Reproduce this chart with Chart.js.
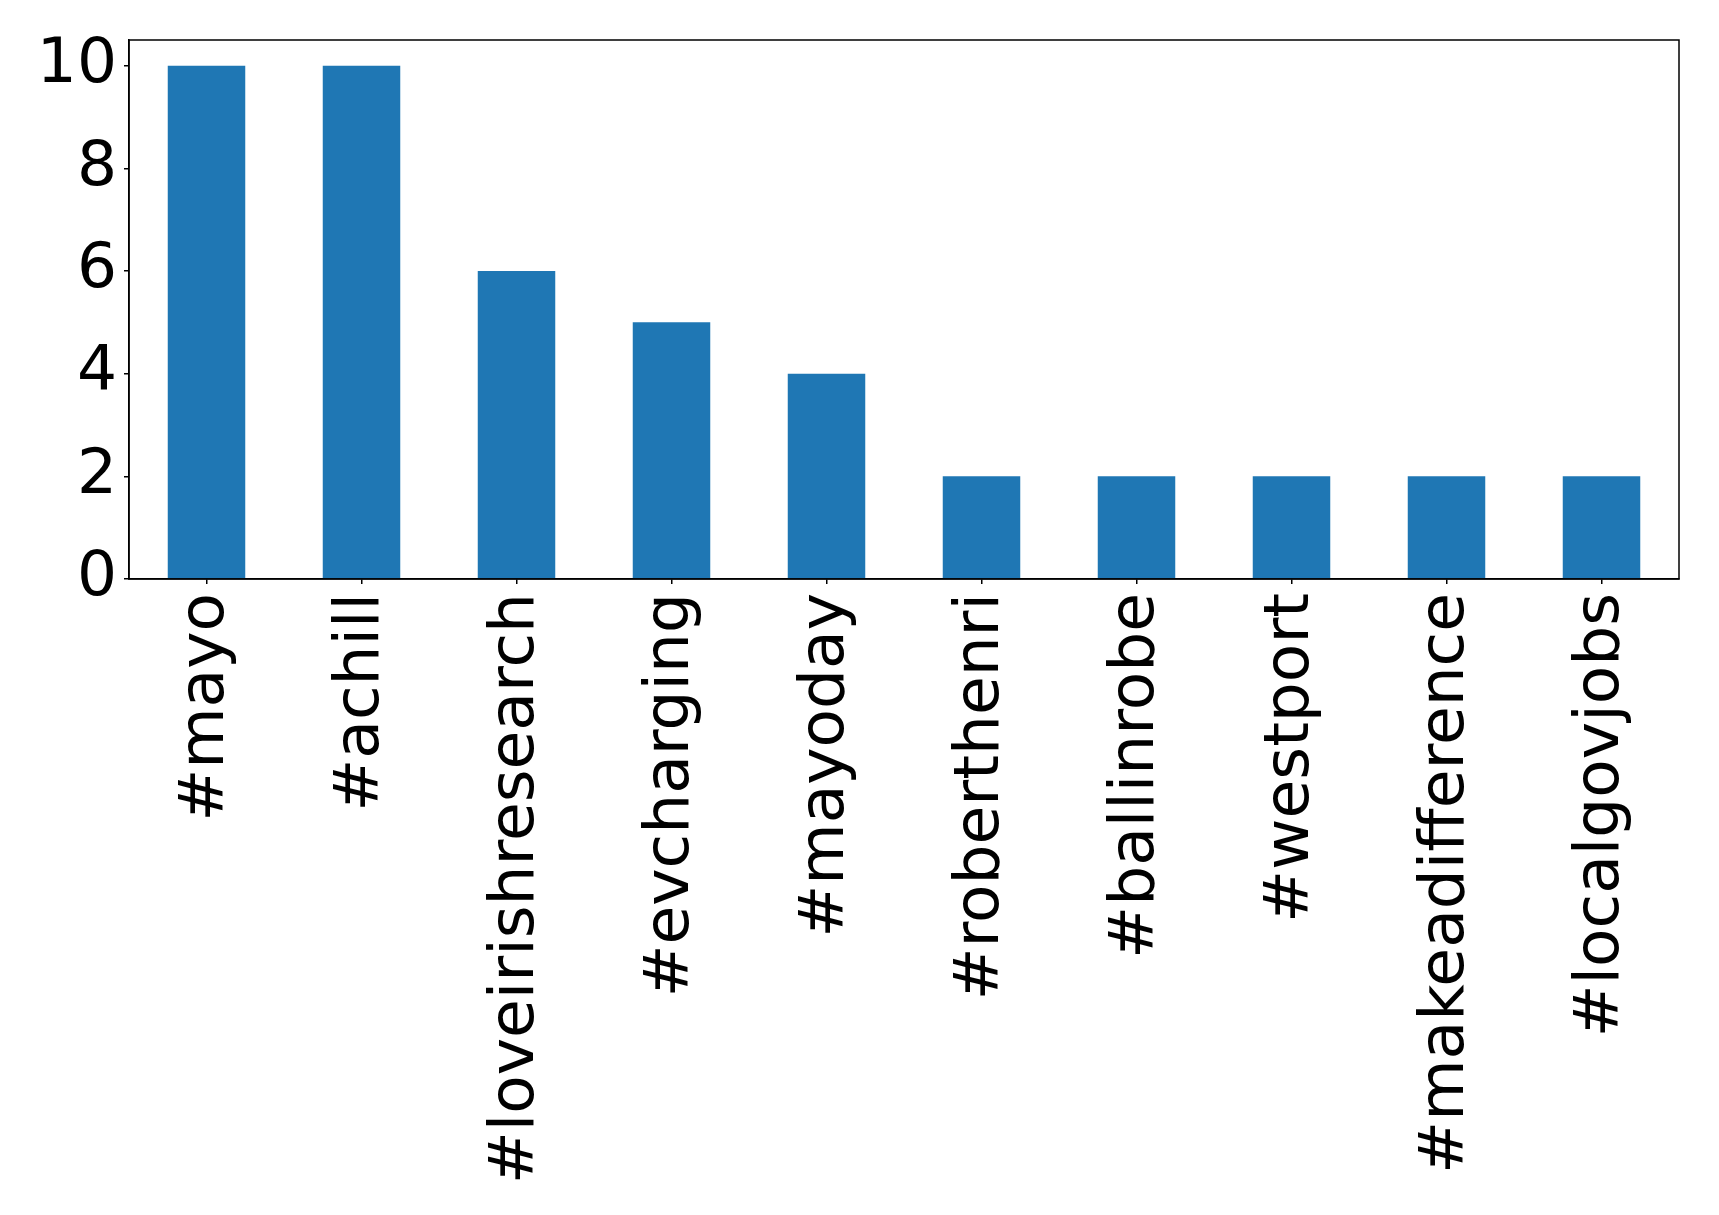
<!DOCTYPE html>
<html>
<head>
<meta charset="utf-8">
<script src="https://cdn.jsdelivr.net/npm/chart.js@4.4.1/dist/chart.umd.min.js"></script>
<style>
  html, body { margin: 0; padding: 0; background: #fff; }
  #wrap { width: 1719px; height: 1215px; }
</style>
</head>
<body>
<div id="wrap"><canvas id="c" width="1719" height="1215"></canvas></div>
<script>
"use strict";
const tags = ["#mayo", "#achill", "#loveirishresearch", "#evcharging", "#mayoday",
  "#roberthenri", "#ballinrobe", "#westport", "#makeadifference", "#localgovjobs"];
const counts = [10, 10, 6, 5, 4, 2, 2, 2, 2, 2];
const yTicks = [0, 2, 4, 6, 8, 10];

const FONT = { family: "'DejaVu Sans', sans-serif", size: 63, lineHeight: 1 };

// matplotlib-style box round the plot area
const frame = {
  id: "frame",
  afterDraw(ch) {
    const a = ch.chartArea, x = ch.ctx;
    x.save();
    x.strokeStyle = "#000";
    x.lineWidth = 1.5;
    x.strokeRect(a.left, a.top, a.right - a.left, a.bottom - a.top);
    x.restore();
  }
};

new Chart(document.getElementById("c"), {
  type: "bar",
  data: {
    labels: tags,
    datasets: [{ data: counts, backgroundColor: "#1f77b4", barPercentage: 0.5, categoryPercentage: 1 }]
  },
  options: {
    responsive: false,
    devicePixelRatio: 1,
    animation: false,
    layout: { padding: { top: 40, right: 40, left: 0, bottom: 0 } },
    plugins: { legend: { display: false }, tooltip: { enabled: false } },
    scales: {
      x: {
        grid: { display: true, offset: false, drawOnChartArea: false, drawTicks: true, tickLength: 5, color: "#000", lineWidth: 1.5 },
        border: { display: true, color: "#000", width: 1.5 },
        ticks: { color: "#000", font: FONT, maxRotation: 90, minRotation: 90, padding: 9, autoSkip: false },
        afterFit: s => { s.height = 1215 - 579; }
      },
      y: {
        min: 0, max: 10.5,
        grid: { display: true, drawOnChartArea: false, drawTicks: true, tickLength: 5, color: "#000", lineWidth: 1.5 },
        border: { display: true, color: "#000", width: 1.5 },
        ticks: { color: "#000", font: FONT, padding: 7 },
        afterBuildTicks: s => { s.ticks = yTicks.map(v => ({ value: v })); },
        afterFit: s => { s.width = 129; s.paddingTop = 0; s.paddingBottom = 0; }
      }
    }
  },
  plugins: [frame]
});
</script>
</body>
</html>
